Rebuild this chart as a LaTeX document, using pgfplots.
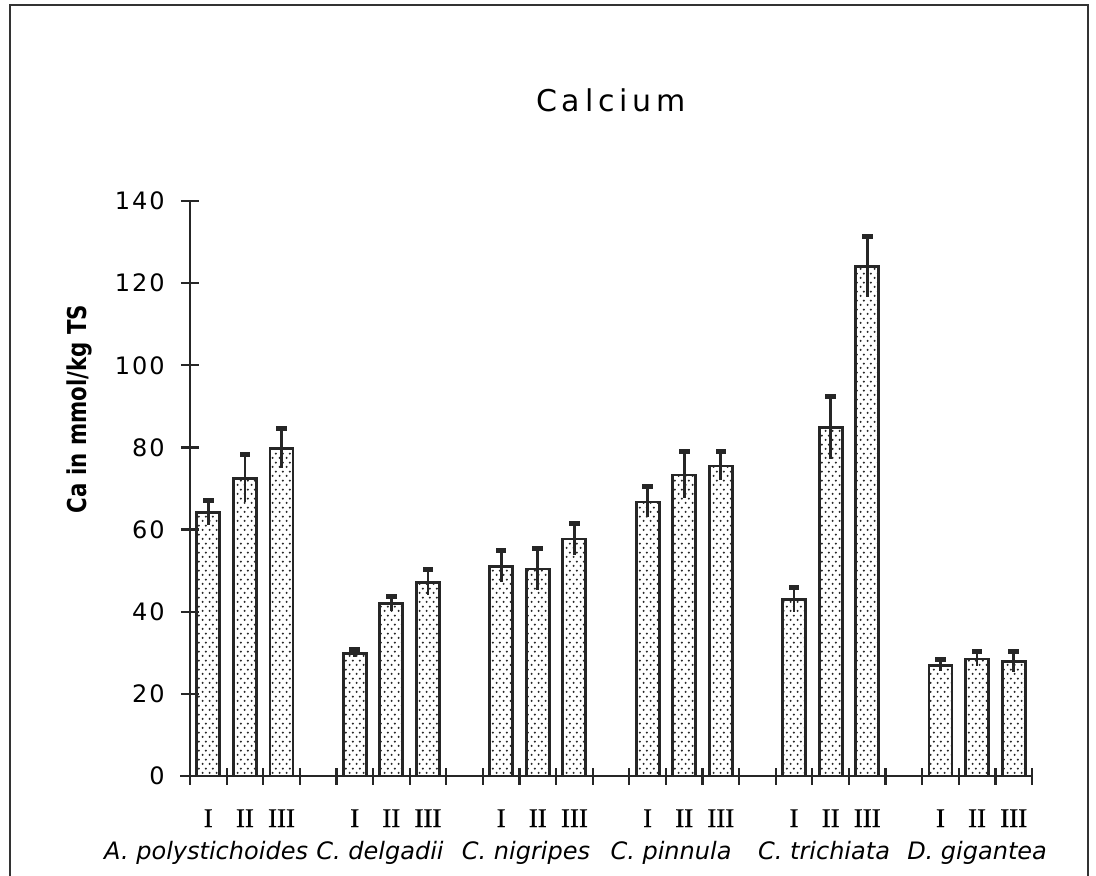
\documentclass[border=0pt]{standalone}
\usepackage{fontspec}
\usepackage{pgfplots}
\pgfplotsset{compat=1.18}
\usepackage{pgfplotstable}
\usetikzlibrary{patterns}
\newfontfamily\genevaf{DejaVu Sans}
\newfontfamily\tickf{DejaVu Sans}[LetterSpace=8]
\newfontfamily\titlef{DejaVu Sans}[LetterSpace=16]
\newfontfamily\ylabf{DejaVu Sans}[FakeStretch=0.82]
\newfontfamily\romf{Liberation Serif}[FakeBold=0.6]

\pgfdeclarepatternformonly{sdots}{\pgfpointorigin}{\pgfpoint{3.6pt}{4.6pt}}{\pgfpoint{3.6pt}{4.6pt}}{%
  \pgfpathcircle{\pgfpoint{0.9pt}{1.15pt}}{0.62pt}%
  \pgfpathcircle{\pgfpoint{2.7pt}{3.45pt}}{0.62pt}%
  \pgfusepath{fill}}
% error marks are rotated by 90 degrees for y error bars
\pgfdeclareplotmark{flag}{%
  \pgfpathrectangle{\pgfpoint{-2.5pt}{-4.6pt}}{\pgfpoint{2.5pt}{5.3pt}}%
  \pgfusepathqfill}

\pgfplotstableread{
x y e
0.5 64.2 3.0
1.5 72.5 5.7
2.5 79.8 4.8
4.5 29.9 1.0
5.5 42.0 1.8
6.5 47.2 3.1
8.5 51.1 3.9
9.5 50.4 5.1
10.5 57.7 3.9
12.5 66.7 3.7
13.5 73.3 5.6
14.5 75.5 3.4
16.5 42.9 2.9
17.5 84.8 7.7
18.5 124.0 7.3
20.5 27.0 1.4
21.5 28.5 1.7
22.5 27.8 2.4
}\calcium

\begin{document}
\begin{tikzpicture}
\begin{axis}[
  at={(0,0)}, anchor=south west,
  scale only axis, width=421pt, height=287.5pt,
  xmin=0, xmax=23, ymin=0, ymax=140,
  axis x line=bottom, axis y line=left,
  axis line style={-, line width=1.1pt, black!85},
  x axis line style={shorten <=-5pt},
  ytick={0,20,...,140},
  xtick={0.5,1.5,2.5,4.5,5.5,6.5,8.5,9.5,10.5,12.5,13.5,14.5,16.5,17.5,18.5,20.5,21.5,22.5},
  xticklabels={I,II,III,I,II,III,I,II,III,I,II,III,I,II,III,I,II,III},
  minor xtick={0,1,...,23},
  tick align=center,
  major tick length=9pt,
  minor tick length=8.5pt,
  tick style={line width=1.1pt, black!85},
  every major x tick/.append style={draw=none},
  every minor x tick/.append style={draw=black!85},
  /pgf/number format/assume math mode=true,
  yticklabel style={font=\fontsize{12}{14}\tickf, anchor=east, inner sep=0pt, xshift=-8pt},
  xticklabel style={font=\fontsize{13.5}{16}\romf, anchor=base, inner sep=0pt, yshift=-21pt},
  extra x ticks={0.44,5.19,9.18,13.14,17.32,21.5},
  extra x tick labels={A. polystichoides,C. delgadii,C. nigripes,C. pinnula,C. trichiata,D. gigantea},
  extra x tick style={xticklabel style={font=\fontsize{12}{14}\genevaf\itshape, yshift=-16pt}},
  title={Calcium},
  title style={font=\fontsize{15}{18}\titlef, at={(axis description cs:0.5,1.155)}, anchor=center},
  ylabel={Ca in mmol/kg TS},
  ylabel style={font=\fontsize{13}{15}\ylabf\bfseries, at={(axis description cs:-0.131,0.638)}, anchor=center},
]
\addplot[ybar, bar width=11.5pt, bar shift=0pt, draw=black!85, line width=1.4pt,
  pattern=sdots, pattern color=black!85,
  error bars/.cd, y dir=plus, y explicit, error mark=flag,
  error bar style={draw=black!85, line width=1.35pt},
  error mark options={draw=none, fill=black!85}]
  table[x=x, y=y, y error=e]{\calcium};
\addplot[ybar, bar width=11.5pt, bar shift=0pt, draw=none, fill=none,
  error bars/.cd, y dir=minus, y explicit, error mark=none,
  error bar style={draw=black!85, line width=1.35pt}]
  table[x=x, y=y, y error=e]{\calcium};
\end{axis}
\draw[line width=1.4pt, black!80] (-90pt,-60pt) -- (-90pt,385.5pt) -- (449pt,385.5pt) -- (449pt,-60pt);
\pgfresetboundingbox
\useasboundingbox (-95pt,-49.5pt) rectangle (453pt,388pt);
\end{tikzpicture}
\end{document}
